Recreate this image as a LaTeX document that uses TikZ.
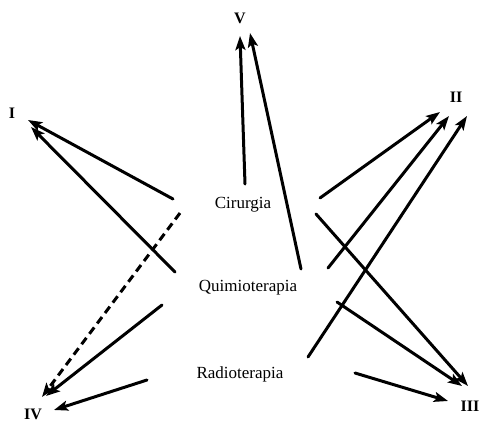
\documentclass[tikz,border=0pt]{standalone}
\usepackage{fontspec}
\setmainfont{Liberation Serif}
\usetikzlibrary{arrows.meta}
\begin{document}
\begin{tikzpicture}[x=1pt,y=-1pt,
  treat/.style={font=\fontsize{17}{17}\selectfont, inner sep=0pt},
  stage/.style={font=\fontsize{16}{16}\selectfont\bfseries, inner sep=0pt},
  link/.style={line width=3pt, line cap=round, -{Stealth[length=14pt,width=10pt,inset=3pt]}},
  dlink/.style={link, line cap=butt, dash pattern=on 8pt off 5pt}]
\useasboundingbox (0,0) rectangle (484,423);
% labels
\node[treat] (cir) at (243,205) {Cirurgia};
\node[treat] (qui) at (248,288) {Quimioterapia};
\node[treat] (rad) at (240,374) {Radioterapia};
\node[stage] (s1) at (12,113) {I};
\node[stage] (s2) at (456,97) {II};
\node[stage] (s3) at (470,406) {III};
\node[stage, anchor=south] (s4) at (33,420) {IV};
\node[stage] (s5) at (240,18) {V};
% start points
\coordinate (cV) at (245,184);
\coordinate (qV) at (301,269);
\coordinate (cI) at (173,199);
\coordinate (qI) at (175,272);
\coordinate (cIV) at (180,213);
\coordinate (qIV) at (162,305);
\coordinate (rIV) at (147,380);
\coordinate (cII) at (320,198);
\coordinate (qII) at (328,268);
\coordinate (rII) at (308,357);
\coordinate (cIII) at (316,214);
\coordinate (qIII) at (337,302);
\coordinate (rIII) at (355,373);
% tips
\coordinate (tV1) at (240,36);
\coordinate (tV2) at (250,33);
\coordinate (tI1) at (28,120);
\coordinate (tI2) at (31,127);
\coordinate (tIV1) at (42,397);
\coordinate (tIV2) at (46,396);
\coordinate (tIV3) at (54,410);
\coordinate (tII1) at (440,112);
\coordinate (tII2) at (449,116);
\coordinate (tII3) at (467,116);
\coordinate (tIII1) at (468,386);
\coordinate (tIII2) at (462,386);
\coordinate (tIII3) at (448,401);
% arrows
\draw[link] (cV) -- (tV1);
\draw[link] (qV) -- (tV2);
\draw[link] (cI) -- (tI1);
\draw[link] (qI) -- (tI2);
\draw[dlink] (cIV) -- (tIV1);
\draw[link] (qIV) -- (tIV2);
\draw[link] (rIV) -- (tIV3);
\draw[link] (cII) -- (tII1);
\draw[link] (qII) -- (tII2);
\draw[link] (rII) -- (tII3);
\draw[link] (cIII) -- (tIII1);
\draw[link] (qIII) -- (tIII2);
\draw[link] (rIII) -- (tIII3);
\end{tikzpicture}
\end{document}
